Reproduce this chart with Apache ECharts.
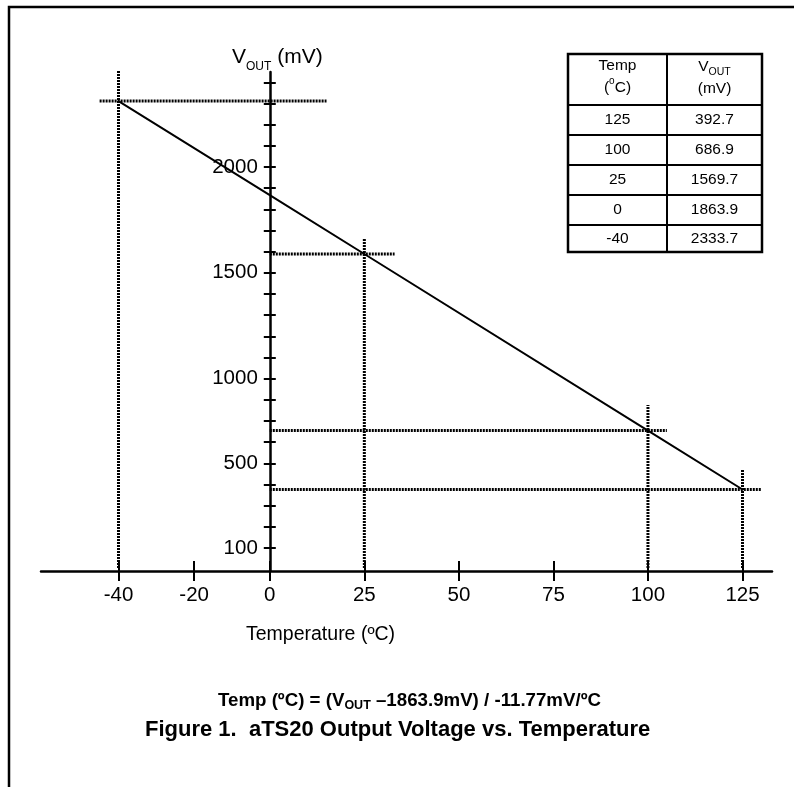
<!DOCTYPE html>
<html><head><meta charset="utf-8">
<script src="https://cdn.jsdelivr.net/npm/echarts@6/dist/echarts.min.js"></script>
<style>html,body{margin:0;padding:0;background:#fff}#c{width:794px;height:787px}</style>
</head><body><div id="c"></div>
<script>
// ---- data ----
const temps = [125, 100, 25, 0, -40];
const vouts = [392.7, 686.9, 1569.7, 1863.9, 2333.7];
const xTickValues = [-40, -20, 0, 25, 50, 75, 100, 125];
const yTickIndex = [1,2,3,4,5,6,7,8,9,10,11,12,13,14,15,16,17,18,19,20,21,22,23];
const yLabelIndex = [1, 5, 9, 14, 19];
const yLabelText = ['100', '500', '1000', '1500', '2000'];
// dotted guide extents; null = no guide
const vGuideTop = [494, 815, 1650, null, 2531];   // mV
const hGuideFrom = [0, 0, 0, null, -45];          // deg C
const hGuideTo = [130, 105, 33, null, 15];        // deg C

const F = 'Liberation Sans';
const chart = echarts.init(document.getElementById('c'), null, {renderer: 'canvas'});

const series = [];
function guide(data) {
  return {type: 'line', xAxisIndex: 0, yAxisIndex: 0, data: data, symbol: 'none', silent: true,
    z: 2, lineStyle: {color: '#000', width: 3, type: [2, 1]}};
}
temps.forEach(function (t, i) {
  if (vGuideTop[i] != null) series.push(guide([[t, 0], [t, vGuideTop[i]]]));
  if (hGuideFrom[i] != null) series.push(guide([[hGuideFrom[i], vouts[i]], [hGuideTo[i], vouts[i]]]));
});
series.push({
  type: 'line', xAxisIndex: 0, yAxisIndex: 0, symbol: 'none', silent: true, z: 3,
  data: temps.map(function (t, i) { return [t, vouts[i]]; }).sort(function (a, b) { return a[0] - b[0]; }),
  lineStyle: {color: '#000', width: 2}
});

const AX = {color: '#000', width: 2.5};
const TK = {color: '#000', width: 2};
const LBL = {fontSize: 20.5, fontFamily: F, color: '#000'};
const XMIN = -60.5, XMAX = 132.8;
const YMIN = -14.7, YMAX = 2479.2;
const TMIN = -0.0865, TMAX = 23.487;
const GL = 41, GR = 22, GT = 72, GB = 216, W = 794;
// y axis sits at x = 0 of the temperature axis
const yOff = -(0 - XMIN) / (XMAX - XMIN) * (W - GL - GR);

// ---- graphic: frame, table, names, captions ----
const g = [];
g.push({type: 'rect', silent: true, shape: {x: 9, y: 7, width: 900, height: 900},
  style: {fill: 'none', stroke: '#000', lineWidth: 2.5}});
function txt(x, y, text, font, align, extra) {
  const s = {text: text, x: x, y: y, fill: '#000', font: font,
    align: align || 'center', textAlign: align || 'center', verticalAlign: 'middle', textVerticalAlign: 'middle'};
  if (extra) Object.assign(s, extra);
  return {type: 'text', silent: true, z: 10, style: s};
}
// table
const tL = 568, tR = 762, tM = 667, tT = 54;
const rowY = [105, 135, 165, 195, 225, 252];
g.push({type: 'rect', silent: true, z: 9, shape: {x: tL, y: tT, width: tR - tL, height: rowY[5] - tT},
  style: {fill: '#fff', stroke: '#000', lineWidth: 2.5}});
g.push({type: 'line', silent: true, z: 9, shape: {x1: tM, y1: tT, x2: tM, y2: rowY[5]},
  style: {stroke: '#000', lineWidth: 2}});
rowY.slice(0, 5).forEach(function (y) {
  g.push({type: 'line', silent: true, z: 9, shape: {x1: tL, y1: y, x2: tR, y2: y},
    style: {stroke: '#000', lineWidth: 2}});
});
const c1 = (tL + tM) / 2, c2 = (tM + tR) / 2;
const TF = '15.5px ' + F;
temps.forEach(function (t, i) {
  const cy = (rowY[i] + rowY[i + 1]) / 2;
  g.push(txt(c1, cy, String(t), TF));
  g.push(txt(c2, cy, vouts[i].toFixed(1), TF));
});
g.push(txt(c1, 66, 'Temp', TF));
g.push(txt(c1, 86, '{p|(}{s|o}{p|C)}', TF, 'center', {rich: {
  p: {fontSize: 15.5, fontFamily: F, fill: '#000', verticalAlign: 'top', padding: [3, 0, 0, 0]},
  s: {fontSize: 10, fontFamily: F, fill: '#000', verticalAlign: 'top'}}}));
g.push(txt(c2, 68, '{v|V}{s|OUT}', TF, 'center', {rich: {
  v: {fontSize: 15.5, fontFamily: F, fill: '#000', verticalAlign: 'top'},
  s: {fontSize: 10.5, fontFamily: F, fill: '#000', verticalAlign: 'top', padding: [8, 0, 0, 0]}}}));
g.push(txt(c2, 89, '(mV)', TF));
// axis names
g.push(txt(232, 60, '{v|V}{s|OUT}{v| (mV)}', '21px ' + F, 'left', {rich: {
  v: {fontSize: 21, fontFamily: F, fill: '#000', verticalAlign: 'top'},
  s: {fontSize: 12, fontFamily: F, fill: '#000', verticalAlign: 'top', padding: [14, 0, 0, 0]}}}));
g.push(txt(246, 635, 'Temperature (ºC)', '19.5px ' + F, 'left'));
// captions
g.push(txt(218, 702, '{m|Temp (ºC) = (V}{s|OUT}{m| –1863.9mV) / -11.77mV/ºC}', 'bold 18.7px ' + F, 'left', {rich: {
  m: {fontSize: 18.7, fontWeight: 'bold', fontFamily: F, fill: '#000', verticalAlign: 'top'},
  s: {fontSize: 12.5, fontWeight: 'bold', fontFamily: F, fill: '#000', verticalAlign: 'top', padding: [8, 0, 0, 0]}}}));
g.push(txt(145, 730, 'Figure 1.  aTS20 Output Voltage vs. Temperature', 'bold 22px ' + F, 'left'));

chart.setOption({
  animation: false,
  backgroundColor: '#fff',
  grid: {left: GL, right: GR, top: GT, bottom: GB, containLabel: false, outerBoundsMode: 'none'},
  xAxis: [
    {type: 'value', min: XMIN, max: XMAX, position: 'bottom',
      axisLine: {onZero: false, lineStyle: AX},
      axisTick: {show: true, inside: false, length: 10, customValues: xTickValues, lineStyle: TK},
      axisLabel: Object.assign({customValues: xTickValues, margin: 14}, LBL),
      splitLine: {show: false}},
    {type: 'value', min: XMIN, max: XMAX, position: 'bottom',
      axisLine: {show: false, onZero: false},
      axisTick: {show: true, inside: true, length: 10, customValues: xTickValues, lineStyle: TK},
      axisLabel: {show: false}, splitLine: {show: false}}
  ],
  yAxis: [
    {type: 'value', min: YMIN, max: YMAX, show: false, splitLine: {show: false}},
    {type: 'value', min: TMIN, max: TMAX, position: 'left', offset: yOff,
      axisLine: {show: true, onZero: false, lineStyle: AX},
      axisTick: {show: true, inside: false, length: 6, customValues: yTickIndex, lineStyle: TK},
      axisLabel: Object.assign({customValues: yLabelIndex, margin: 12,
        formatter: function (v) { return yLabelText[yLabelIndex.indexOf(Math.round(v))]; }}, LBL),
      splitLine: {show: false}},
    {type: 'value', min: TMIN, max: TMAX, position: 'left', offset: yOff,
      axisLine: {show: false, onZero: false},
      axisTick: {show: true, inside: true, length: 6, customValues: yTickIndex, lineStyle: TK},
      axisLabel: {show: false}, splitLine: {show: false}}
  ],
  series: series,
  graphic: g
});
</script>
</body></html>
